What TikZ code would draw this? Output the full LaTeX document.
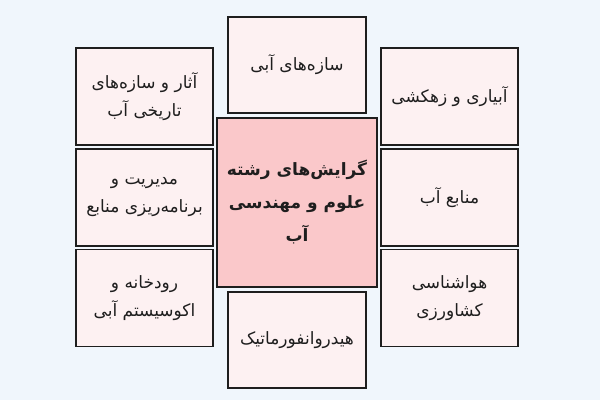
\documentclass[tikz,border=0pt]{standalone}
\usepackage{fontspec}
\TeXXeTstate=1
\newfontfamily\fa[Script=Arabic]{DejaVu Sans}
\newcommand{\RL}[1]{\beginR #1\endR}
\definecolor{bgblue}{HTML}{F0F6FC}
\definecolor{boxpink}{HTML}{FDF1F2}
\definecolor{centerpink}{HTML}{FAC8CA}
\definecolor{inkdark}{HTML}{1E1E1E}
\begin{document}
\begin{tikzpicture}[x=1pt,y=-1pt,
  boxbase/.style={draw=inkdark, line width=1.1pt, rectangle, align=center, text=inkdark,
    font=\fa\fontsize{17}{28}\selectfont, inner sep=2pt},
  smallbox/.style={boxbase, fill=boxpink, minimum width=137pt, minimum height=97pt},
  midbox/.style={boxbase, fill=boxpink, minimum width=138pt, minimum height=96pt},
  centerbox/.style={boxbase, fill=centerpink, minimum width=160pt, minimum height=169pt,
    font=\fa\bfseries\fontsize{17}{33}\selectfont}]
\fill[bgblue] (0,0) rectangle (600,400);
\useasboundingbox (0,0) rectangle (600,400);
\node[smallbox] (lt) at (144.5,96.5) {\RL{آثار و سازه‌های}\\\RL{تاریخی آب}};
\node[smallbox] (lm) at (144.5,197.5) {\RL{مدیریت و}\\\RL{برنامه‌ریزی منابع}};
\node[smallbox] (lb) at (144.5,298) {\RL{رودخانه و}\\\RL{اکوسیستم آبی}};
\node[smallbox] (rt) at (449.5,96.5) {\RL{آبیاری و زهکشی}};
\node[smallbox] (rm) at (449.5,197.5) {\RL{منابع آب}};
\node[smallbox] (rb) at (449.5,298) {\RL{هواشناسی}\\\RL{کشاورزی}};
\node[midbox] (tm) at (297,65) {\RL{سازه‌های آبی}};
\node[midbox] (bm) at (297,340) {\RL{هیدروانفورماتیک}};
\node[centerbox] (c) at (297,202.5) {\RL{گرایش‌های رشته}\\\RL{علوم و مهندسی}\\\RL{آب}};
\end{tikzpicture}
\end{document}
